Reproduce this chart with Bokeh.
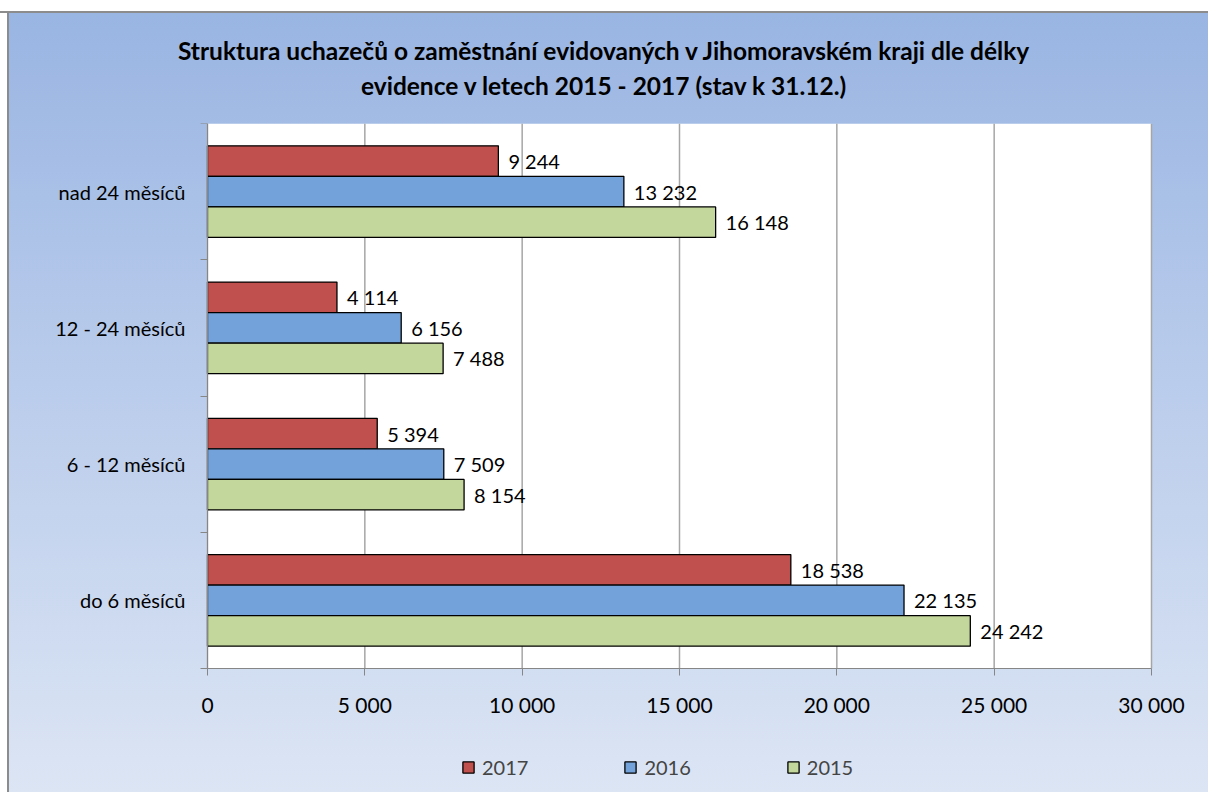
from bokeh.plotting import figure
from bokeh.models import (ColumnDataSource, FixedTicker, LabelSet, Legend, LegendItem,
                          Label, Range1d, BoxAnnotation)
from bokeh.core.properties import value
from bokeh.embed import file_html
from bokeh.resources import INLINE

categories = ["do 6 měsíců", "6 - 12 měsíců", "12 - 24 měsíců", "nad 24 měsíců"]
years = ["2017", "2016", "2015"]
v2017 = [18538, 5394, 4114, 9244]
v2016 = [22135, 7509, 6156, 13232]
v2015 = [24242, 8154, 7488, 16148]
x_ticks = [0, 5000, 10000, 15000, 20000, 25000, 30000]
title_lines = [
    "Struktura uchazečů o zaměstnání evidovaných v Jihomoravském kraji dle délky",
    "evidence v letech 2015 - 2017 (stav k 31.12.)",
]

colors = ["#c0504d", "#73a2da", "#c3d69b"]
series = [v2017, v2016, v2015]
FONT = "Lato"
bar_h = 0.224
offsets = [bar_h, 0.0, -bar_h]
n = len(categories)
XMAX = x_ticks[-1]

# layout geometry (pixels)
W, H = 1208, 792
FRAME_L, FRAME_R = 30, 1200          # frame (drawing area) edges
AREA_L, AREA_R = 207, 1151           # white plot area edges
AREA_T, AREA_B = 123, 668
units_per_px = XMAX / (AREA_R - AREA_L)
x_start = -(AREA_L - FRAME_L) * units_per_px
x_end = XMAX + (FRAME_R - AREA_R) * units_per_px
y_start = -(H - AREA_B) * n / (AREA_B - AREA_T)


def fmt(v):
    return f"{v:,}".replace(",", " ")


p = figure(width=W, height=H, output_backend="svg", toolbar_location=None,
           x_range=Range1d(x_start, x_end), y_range=Range1d(y_start, n),
           min_border_left=FRAME_L, min_border_right=W - FRAME_R,
           min_border_top=AREA_T, min_border_bottom=0)
p.title.text = ""
p.background_fill_color = None
p.border_fill_alpha = 0
p.outline_line_color = None
p.styles = {
    "background": (
        "linear-gradient(to bottom, #ffffff 0px, #ffffff 11px, #8c8c8c 11px, #8c8c8c 13px, transparent 13px), "
        "linear-gradient(to right, #ffffff 0px, #ffffff 7px, #8c8c8c 7px, #8c8c8c 9px, transparent 9px), "
        "linear-gradient(to bottom, #98b4e2 0%, #b4c8ea 40%, #dce5f4 100%)"
    )
}

# white plot area
p.add_layout(BoxAnnotation(left=0, right=XMAX, bottom=0, top=n, fill_color="white",
                           fill_alpha=1, line_color=None, level="underlay"))

# vertical grid lines limited to the plot area
p.segment(x0=x_ticks, y0=[0] * len(x_ticks), x1=x_ticks, y1=[n] * len(x_ticks),
          line_color="#a6a6a6", line_width=1.5)

renderers = []
for vals, col, off in zip(series, colors, offsets):
    ys = [k + 0.5 + off for k in range(n)]
    src = ColumnDataSource(dict(y=ys, right=vals, lab=[fmt(v) for v in vals]))
    r = p.hbar(y="y", right="right", left=0, height=bar_h, source=src,
               fill_color=col, line_color="black", line_width=1.3)
    renderers.append(r)
    ls = LabelSet(x="right", y="y", text="lab", source=src, x_offset=10,
                  text_baseline="middle", text_align="left",
                  text_font=value(FONT), text_font_size="20px", text_color="black")
    p.add_layout(ls)

# x axis, fixed at the bottom of the plot area
p.xaxis.fixed_location = 0
p.xaxis.bounds = (0, XMAX)
p.xaxis.ticker = FixedTicker(ticks=x_ticks, minor_ticks=[])
p.xaxis.major_label_overrides = {t: fmt(t) for t in x_ticks}
p.xaxis.axis_line_color = "#868686"
p.xaxis.major_tick_line_color = "#868686"
p.xaxis.major_tick_out = 7
p.xaxis.major_tick_in = 0
p.xaxis.major_label_standoff = 16
p.xaxis.major_label_text_font = FONT
p.xaxis.major_label_text_font_size = "21px"
p.xaxis.major_label_text_color = "black"

# y axis, fixed at x = 0
p.yaxis.fixed_location = 0
p.yaxis.bounds = (0, n)
p.yaxis.ticker = FixedTicker(ticks=[k + 0.5 for k in range(n)],
                             minor_ticks=list(range(n + 1)))
p.yaxis.major_label_overrides = {k + 0.5: c for k, c in enumerate(categories)}
p.yaxis.axis_line_color = "#868686"
p.yaxis.major_tick_out = 0
p.yaxis.major_tick_in = 0
p.yaxis.minor_tick_out = 7
p.yaxis.minor_tick_in = 0
p.yaxis.minor_tick_line_color = "#868686"
p.yaxis.major_label_standoff = 15
p.yaxis.major_label_text_font = FONT
p.yaxis.major_label_text_font_size = "20px"
p.yaxis.major_label_text_color = "black"

p.xgrid.visible = False
p.ygrid.visible = False

legend = Legend(items=[LegendItem(label=y, renderers=[r]) for y, r in zip(years, renderers)],
                orientation="horizontal", location=(461 - FRAME_L, 13),
                background_fill_alpha=0, border_line_alpha=0,
                glyph_width=14, glyph_height=14, label_standoff=7, spacing=95,
                padding=0, margin=0, label_text_font=FONT, label_text_font_size="20px")
p.add_layout(legend)

# title lines: second line nearest the plot area, first line above it
for line, yy in [(title_lines[1], 38), (title_lines[0], 44)]:
    p.add_layout(Label(x=W / 2 - FRAME_L, y=yy, x_units="screen", y_units="screen",
                       text=line, text_align="center", text_baseline="middle",
                       text_font=FONT, text_font_style="bold",
                       text_font_size="24.5px", text_color="black"), "above")

open("out.html", "w").write(file_html(p, INLINE))
